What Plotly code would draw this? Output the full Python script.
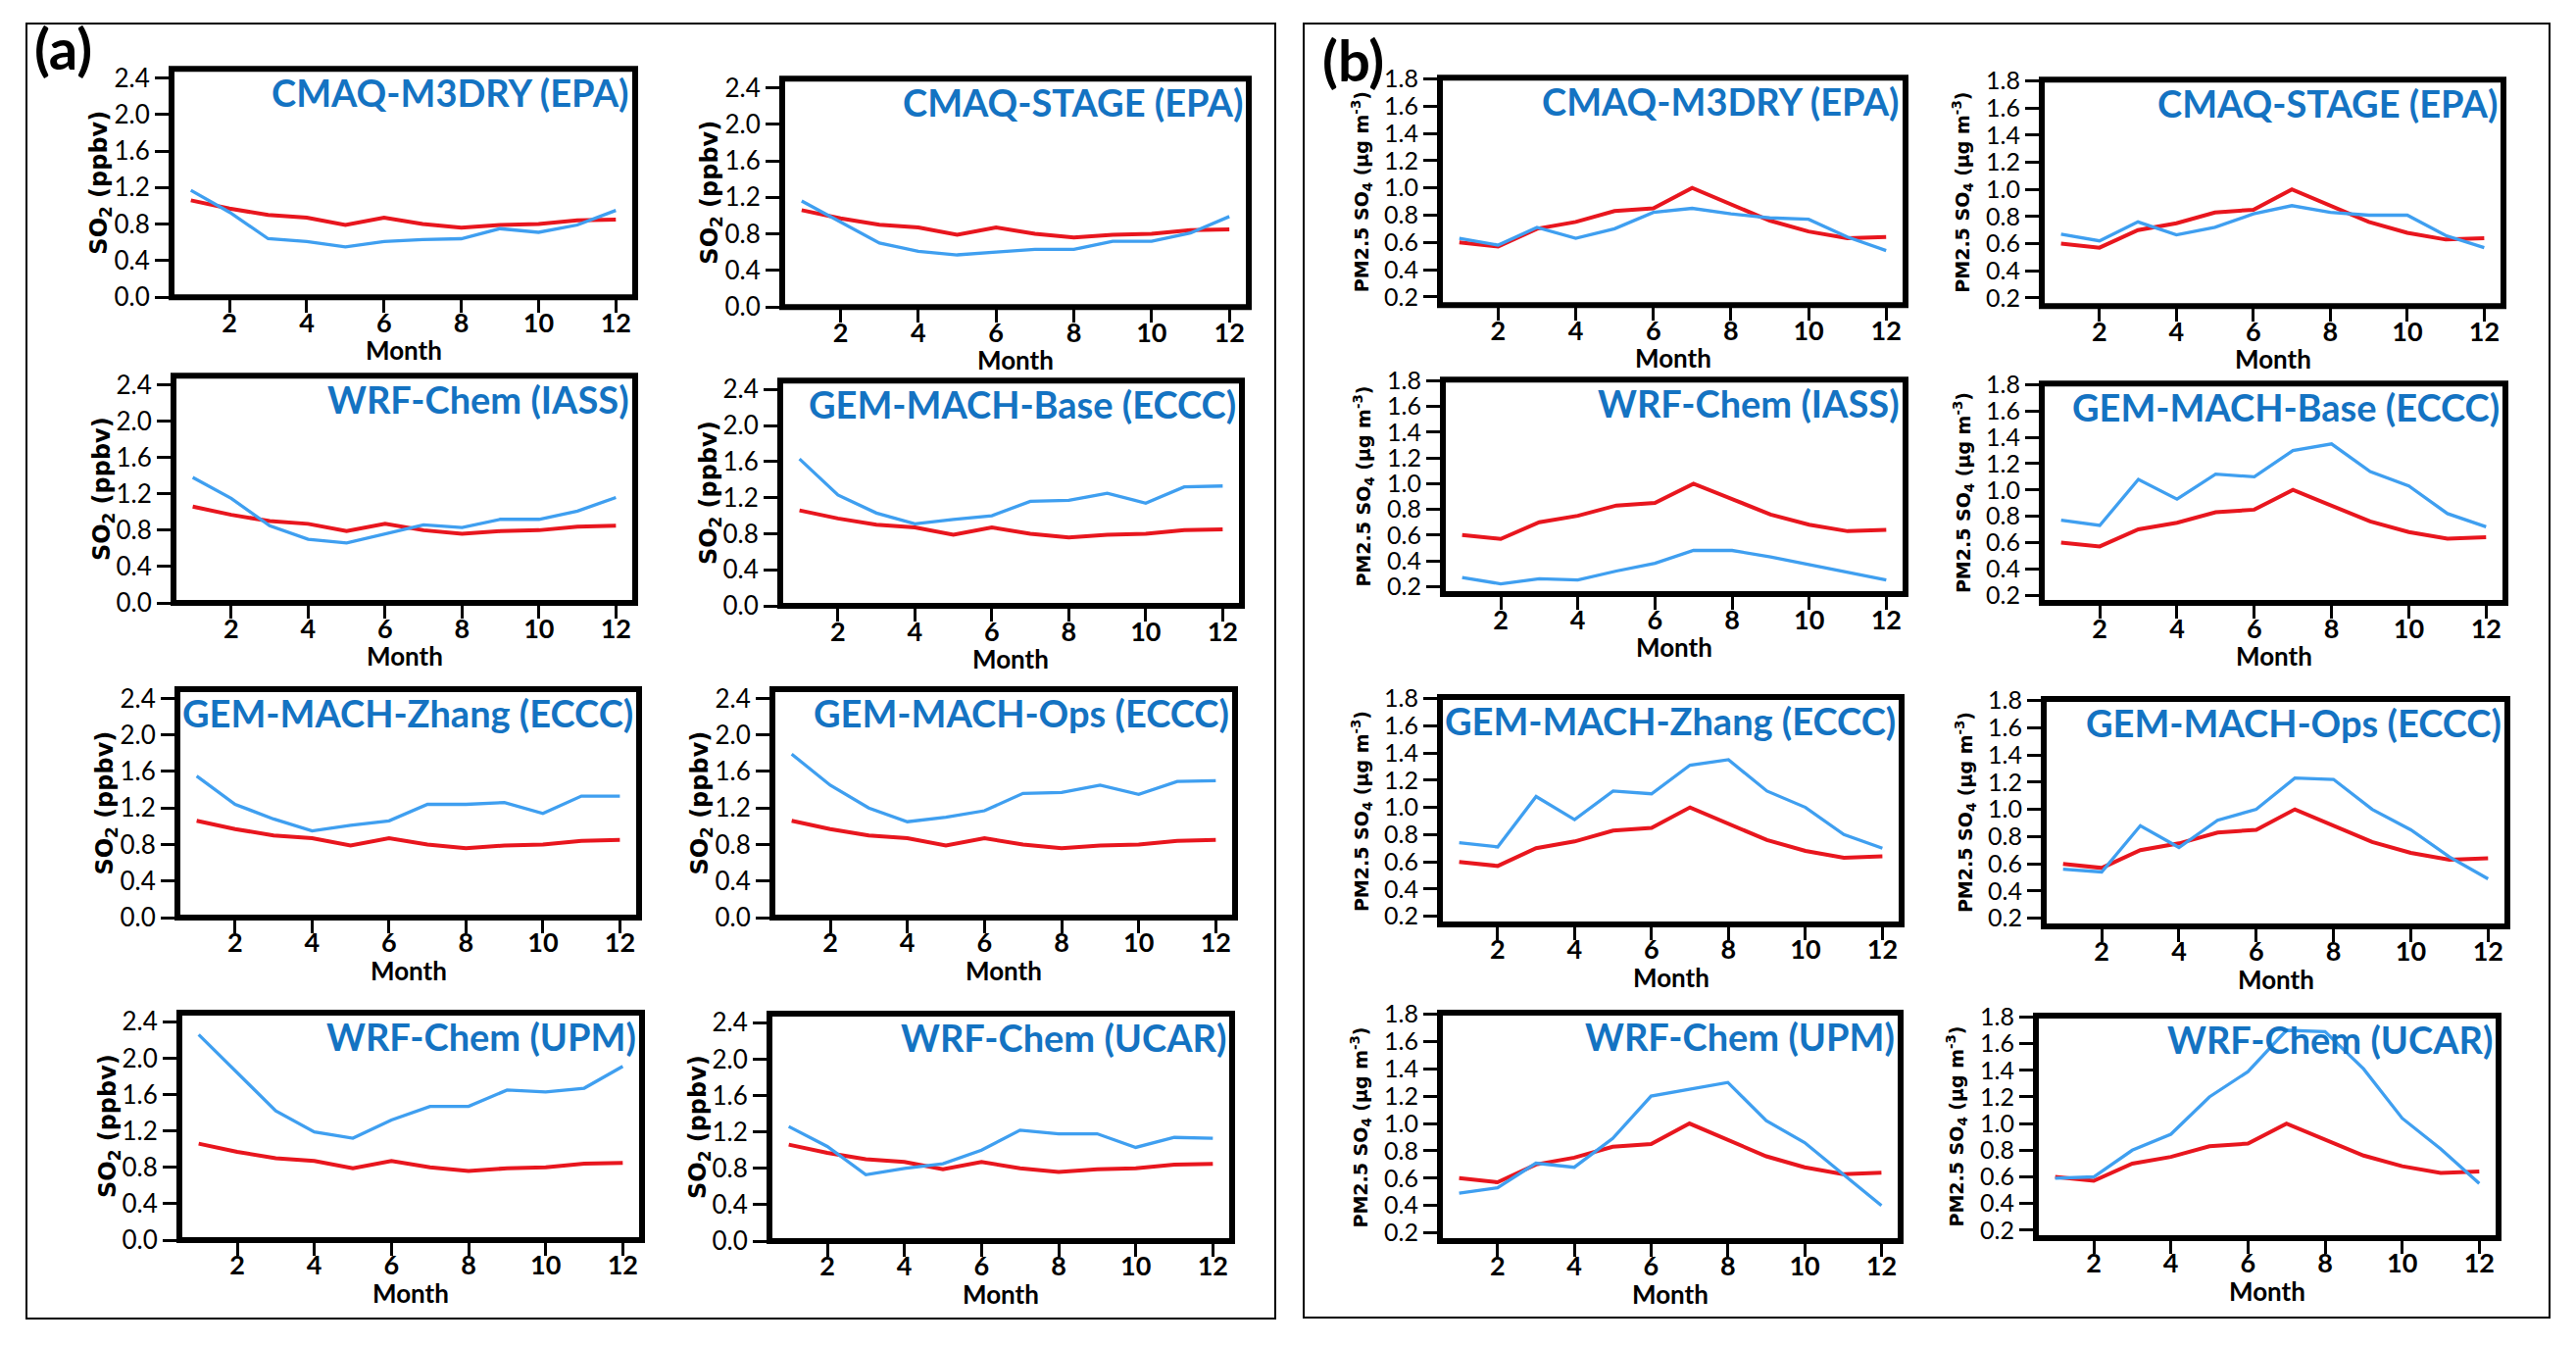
import plotly.graph_objects as go

OFF = 8                      # default page body margin
WF, HF = 2628 - 2 * OFF, 1372 - 2 * OFF
VS, VO = 0.978, 17.0         # observed vertical scale / offset of the photographed page

months = list(range(1, 13))

# ---- SO2 (ppbv), panel (a) ----
so2_obs = [1.06, 0.97, 0.90, 0.87, 0.79, 0.87, 0.80, 0.76, 0.79, 0.80, 0.84, 0.85]
so2_cmaq_m3dry = [1.17, 0.93, 0.64, 0.61, 0.55, 0.61, 0.63, 0.64, 0.75, 0.71, 0.79, 0.95]
so2_cmaq_stage = [1.16, 0.93, 0.70, 0.61, 0.57, 0.60, 0.63, 0.63, 0.72, 0.72, 0.81, 0.99]
so2_wrf_iass = [1.38, 1.15, 0.85, 0.70, 0.66, 0.76, 0.86, 0.83, 0.92, 0.92, 1.01, 1.16]
so2_gem_base = [1.63, 1.23, 1.03, 0.91, 0.96, 1.00, 1.16, 1.17, 1.25, 1.14, 1.32, 1.33]
so2_gem_zhang = [1.55, 1.24, 1.08, 0.95, 1.01, 1.06, 1.24, 1.24, 1.26, 1.14, 1.33, 1.33]
so2_gem_ops = [1.79, 1.45, 1.20, 1.05, 1.10, 1.17, 1.36, 1.37, 1.45, 1.35, 1.49, 1.50]
so2_wrf_upm = [2.26, 1.84, 1.42, 1.19, 1.12, 1.32, 1.47, 1.47, 1.65, 1.63, 1.67, 1.91]
so2_wrf_ucar = [1.26, 1.04, 0.73, 0.80, 0.85, 1.00, 1.22, 1.18, 1.18, 1.03, 1.14, 1.13]

# ---- PM2.5 SO4 (ug m-3), panel (b) ----
so4_obs = [0.60, 0.57, 0.70, 0.75, 0.83, 0.85, 1.00, 0.88, 0.76, 0.68, 0.63, 0.64]
so4_cmaq_m3dry = [0.63, 0.58, 0.71, 0.63, 0.70, 0.82, 0.85, 0.81, 0.78, 0.77, 0.64, 0.54]
so4_cmaq_stage = [0.67, 0.62, 0.76, 0.665, 0.72, 0.82, 0.88, 0.83, 0.81, 0.81, 0.66, 0.57]
so4_wrf_iass = [0.27, 0.22, 0.26, 0.25, 0.32, 0.38, 0.48, 0.48, 0.43, 0.37, 0.31, 0.25]
so4_gem_base = [0.77, 0.73, 1.08, 0.93, 1.12, 1.10, 1.30, 1.35, 1.14, 1.03, 0.82, 0.72]
so4_gem_zhang = [0.74, 0.71, 1.08, 0.91, 1.12, 1.10, 1.31, 1.35, 1.12, 1.00, 0.80, 0.70]
so4_gem_ops = [0.56, 0.54, 0.88, 0.72, 0.92, 1.00, 1.23, 1.22, 1.00, 0.85, 0.65, 0.49]
so4_wrf_upm = [0.49, 0.53, 0.71, 0.68, 0.89, 1.20, 1.25, 1.30, 1.02, 0.86, 0.63, 0.40]
so4_wrf_ucar = [0.59, 0.60, 0.80, 0.92, 1.20, 1.39, 1.70, 1.69, 1.41, 1.04, 0.81, 0.55]

model_names = ["CMAQ-M3DRY (EPA)", "CMAQ-STAGE (EPA)", "WRF-Chem (IASS)", "GEM-MACH-Base (ECCC)",
               "GEM-MACH-Zhang (ECCC)", "GEM-MACH-Ops (ECCC)", "WRF-Chem (UPM)", "WRF-Chem (UCAR)"]
so2_models = [so2_cmaq_m3dry, so2_cmaq_stage, so2_wrf_iass, so2_gem_base,
              so2_gem_zhang, so2_gem_ops, so2_wrf_upm, so2_wrf_ucar]
so4_models = [so4_cmaq_m3dry, so4_cmaq_stage, so4_wrf_iass, so4_gem_base,
              so4_gem_zhang, so4_gem_ops, so4_wrf_upm, so4_wrf_ucar]

x_ticks = [2, 4, 6, 8, 10, 12]
so2_ticks = [0.0, 0.4, 0.8, 1.2, 1.6, 2.0, 2.4]
so4_ticks = [0.2, 0.4, 0.6, 0.8, 1.0, 1.2, 1.4, 1.6, 1.8]

# frame positions in reference pixels (left, right, top, bottom)
frames_a = [(175, 648, 72, 305), (798, 1274, 82, 315),
            (177, 648, 385, 617), (796, 1267, 390, 620),
            (181, 652, 705, 938), (788, 1260, 705, 938),
            (183, 655, 1035, 1267), (785, 1257, 1036, 1268)]
frames_b = [(1469, 1944, 81, 313), (2083, 2554, 83, 314),
            (1472, 1944, 389, 608), (2083, 2556, 393, 617),
            (1469, 1940, 713, 945), (2085, 2558, 715, 947),
            (1469, 1939, 1035, 1268), (2077, 2549, 1038, 1265)]


def PX(p):
    return (p - OFF) / WF


def FY(p):
    return (p - VO) / VS - OFF


def PY(p):
    return 1 - max(FY(p), 1.0) / HF


RED = "#e8161e"
BLUE = "#3f9ff0"
TITLE_BLUE = "#1473c2"
FONT = "Lato"

fig = go.Figure()
layout = dict(width=WF, height=HF, margin=dict(l=0, r=0, t=0, b=0),
              paper_bgcolor="white", plot_bgcolor="white", showlegend=False)
shapes, annotations = [], []

panels = []
for k in range(8):
    panels.append(("a", frames_a[k], so2_obs, so2_models[k], model_names[k]))
for k in range(8):
    panels.append(("b", frames_b[k], so4_obs, so4_models[k], model_names[k]))

for i, (pn, (l, r, t, b), obs, mod, name) in enumerate(panels):
    idx = "" if i == 0 else str(i + 1)
    xa, ya = "x" + idx, "y" + idx
    fig.add_trace(go.Scatter(x=months, y=obs, mode="lines", line=dict(color=RED, width=4.0),
                             xaxis=xa, yaxis=ya, hoverinfo="skip"))
    fig.add_trace(go.Scatter(x=months, y=mod, mode="lines", line=dict(color=BLUE, width=3.3),
                             xaxis=xa, yaxis=ya, hoverinfo="skip"))
    if pn == "a":
        yr, yt, yfs = [0.0, 2.5], so2_ticks, 26
    else:
        yr, yt, yfs = [0.14, 1.81], so4_ticks, 25
    ytt = ["%.1f" % v for v in yt]
    layout["xaxis" + idx] = dict(domain=[PX(l), PX(r)], anchor=ya, range=[0.5, 12.5],
                                 tickvals=x_ticks, ticks="outside", ticklen=15, tickwidth=3,
                                 tickcolor="black", showline=False, showgrid=False, zeroline=False,
                                 ticklabelstandoff=-13,
                                 tickfont=dict(family=FONT, size=27, color="black", weight="bold"))
    layout["yaxis" + idx] = dict(domain=[PY(b), PY(t)], anchor=xa, range=yr,
                                 tickvals=yt, ticktext=ytt, ticks="outside", ticklen=16, tickwidth=3,
                                 tickcolor="black", showline=False, showgrid=False, zeroline=False,
                                 tickfont=dict(family=FONT, size=yfs, color="black"))
    shapes.append(dict(type="rect", xref=xa + " domain", yref=ya + " domain",
                       x0=0, x1=1, y0=0, y1=1, line=dict(color="black", width=6), layer="above"))
    annotations.append(dict(text="<b>" + name + "</b>", xref=xa + " domain", yref=ya + " domain",
                            x=1, y=1, xanchor="right", yanchor="top", xshift=-4, yshift=1,
                            showarrow=False, font=dict(family=FONT, size=38, color=TITLE_BLUE)))
    cx = (l + r) / 2
    annotations.append(dict(text="<b>Month</b>", xref="paper", yref="paper",
                            x=PX(cx), y=PY(b + 54), xanchor="center", yanchor="middle",
                            showarrow=False, font=dict(family=FONT, size=26, color="black")))
    cy = (t + b) / 2
    if pn == "a":
        annotations.append(dict(text="<b>SO<sub>2</sub> (ppbv)</b>", xref="paper", yref="paper",
                                x=PX(l - 72), y=PY(cy), xanchor="center", yanchor="middle",
                                textangle=-90, showarrow=False,
                                font=dict(family="DejaVu Sans", size=24, color="black")))
    else:
        annotations.append(dict(text="<b>PM2.5 SO<sub>4</sub> (\u03bcg m<sup>-3</sup>)</b>",
                                xref="paper", yref="paper",
                                x=PX(l - 80), y=PY(cy), xanchor="center", yanchor="middle",
                                textangle=-90, showarrow=False,
                                font=dict(family="DejaVu Sans", size=19, color="black")))

# outer boxes
shapes.append(dict(type="rect", xref="paper", yref="paper", x0=PX(27), x1=PX(1301),
                   y0=PY(1347), y1=PY(23), line=dict(color="black", width=2)))
shapes.append(dict(type="rect", xref="paper", yref="paper", x0=PX(1330), x1=PX(2601),
                   y0=PY(1346), y1=PY(23), line=dict(color="black", width=2)))

annotations.append(dict(text="<b>(a)</b>", xref="paper", yref="paper", x=PX(33), y=PY(50),
                        xanchor="left", yanchor="middle", showarrow=False,
                        font=dict(family=FONT, size=58, color="black")))
annotations.append(dict(text="<b>(b)</b>", xref="paper", yref="paper", x=PX(1347), y=PY(62),
                        xanchor="left", yanchor="middle", showarrow=False,
                        font=dict(family=FONT, size=58, color="black")))

layout["shapes"] = shapes
layout["annotations"] = annotations
fig.update_layout(**layout)
fig.write_html("out.html")
